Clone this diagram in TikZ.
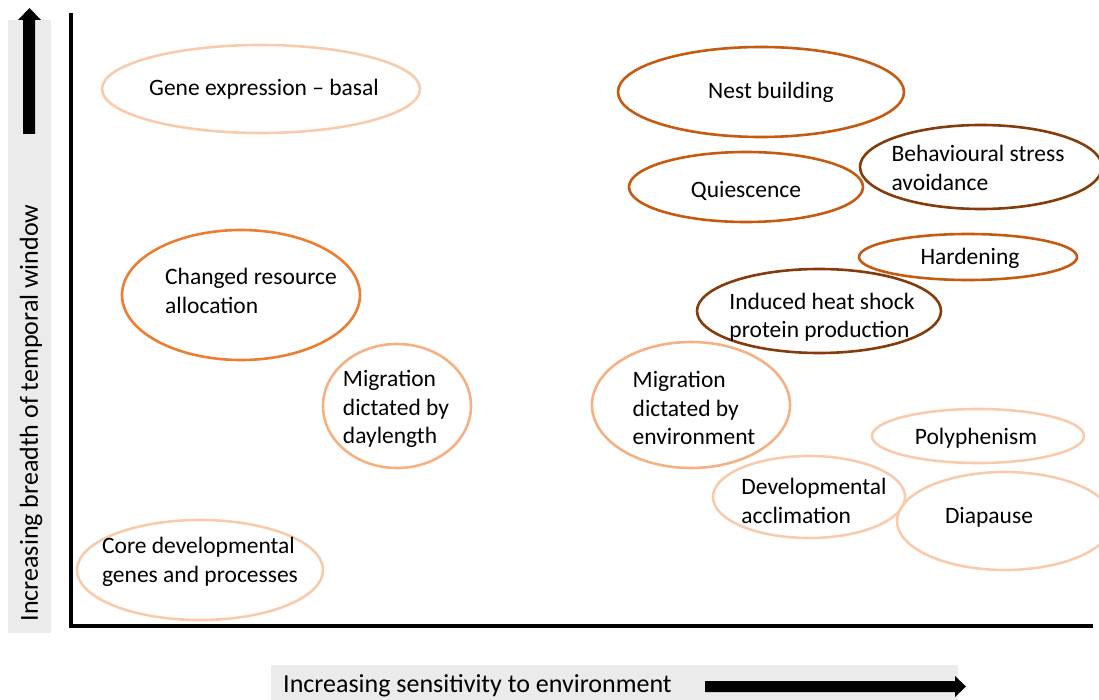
\documentclass[tikz,border=0pt]{standalone}
\usepackage{fontspec}
\setmainfont{Carlito}
\usetikzlibrary{shapes.geometric}
\definecolor{peach}{HTML}{F8CBAD}
\definecolor{midpeach}{HTML}{F4B183}
\definecolor{orangeacc}{HTML}{ED7D31}
\definecolor{darkorange}{HTML}{C55A11}
\definecolor{brownacc}{HTML}{843C0C}
\definecolor{labelgrey}{HTML}{EBEBEB}
\begin{document}
\begin{tikzpicture}[x=1pt, y=-1pt,
	trait/.style={ellipse, draw, line width=2.6pt, inner sep=0pt},
	txt/.style={align=left, inner sep=0pt, font=\fontsize{23.5}{28.3}\selectfont},
	axislabel/.style={inner sep=0pt, font=\fontsize{26}{30}\selectfont}]
	\useasboundingbox (0, 0) rectangle (1099, 700);
	% axis labels
	\fill [labelgrey] (8, 20) rectangle (51, 633);
	\fill [labelgrey] (271, 665) rectangle (958, 700);
	\fill (23, 134) -- (23, 20) -- (18, 20) -- (29.5, 8) -- (41, 20) -- (35, 20) -- (35, 134) -- cycle;
	\fill (705, 681) -- (955, 681) -- (955, 676) -- (966, 686.5) -- (955, 697) -- (955, 692) -- (705, 692) -- cycle;
	\node [axislabel, rotate=90] (ylab) at (31, 413) {Increasing breadth of temporal window};
	\node [axislabel, anchor=west] (xlab) at (283, 686) {Increasing sensitivity to environment};
	% axes
	\draw [line width=3.5pt] (71, 13) -- (71, 626) -- (1093, 626);
	% traits
	\node [trait, draw=peach, minimum width=318, minimum height=88] (basal) at (261, 89) {};
	\node [trait, draw=darkorange, minimum width=286, minimum height=90] (nest) at (761, 92) {};
	\node [trait, draw=darkorange, minimum width=234, minimum height=70] (quies) at (746, 187) {};
	\node [trait, draw=brownacc, minimum width=242, minimum height=84] (stress) at (981, 167) {};
	\node [trait, draw=darkorange, minimum width=218, minimum height=46] (harden) at (968, 257) {};
	\node [trait, draw=brownacc, minimum width=244, minimum height=84] (heat) at (819, 311) {};
	\node [trait, draw=orangeacc, minimum width=238, minimum height=130] (alloc) at (241, 295) {};
	\node [trait, draw=midpeach, minimum width=148, minimum height=124] (daylen) at (397, 406) {};
	\node [trait, draw=midpeach, minimum width=198, minimum height=126] (envmig) at (691, 405) {};
	\node [trait, draw=peach, minimum width=212, minimum height=54] (poly) at (978, 436) {};
	\node [trait, draw=peach, minimum width=192, minimum height=82] (accl) at (809, 497) {};
	\node [trait, draw=peach, minimum width=216, minimum height=98] (diap) at (1005, 521) {};
	\node [trait, draw=peach, minimum width=246, minimum height=100] (core) at (200, 570) {};
	% texts
	\node [txt] (basal-t) at ([shift={(3, 0)}]basal) {Gene expression -- basal};
	\node [txt] (nest-t) at ([shift={(10, 0)}]nest) {Nest building};
	\node [txt] (quies-t) at ([shift={(0, 4)}]quies) {Quiescence};
	\node [txt] (stress-t) at ([shift={(-3, 1)}]stress) {Behavioural stress\\avoidance};
	\node [txt] (harden-t) at ([shift={(2, 1)}]harden) {Hardening};
	\node [txt] (heat-t) at ([shift={(3, 6)}]heat) {Induced heat shock\\protein production};
	\node [txt] (alloc-t) at ([shift={(10, -4)}]alloc) {Changed resource\\allocation};
	\node [txt] (daylen-t) at ([shift={(-1, 3)}]daylen) {Migration\\dictated by\\daylength};
	\node [txt] (envmig-t) at ([shift={(3, 3)}]envmig) {Migration\\dictated by\\environment};
	\node [txt] (poly-t) at ([shift={(-2, 2)}]poly) {Polyphenism};
	\node [txt] (accl-t) at ([shift={(5, 4)}]accl) {Developmental\\acclimation};
	\node [txt] (diap-t) at ([shift={(-16, -4)}]diap) {Diapause};
	\node [txt] (core-t) at ([shift={(0, -8)}]core) {Core developmental\\genes and processes};
\end{tikzpicture}
\end{document}
